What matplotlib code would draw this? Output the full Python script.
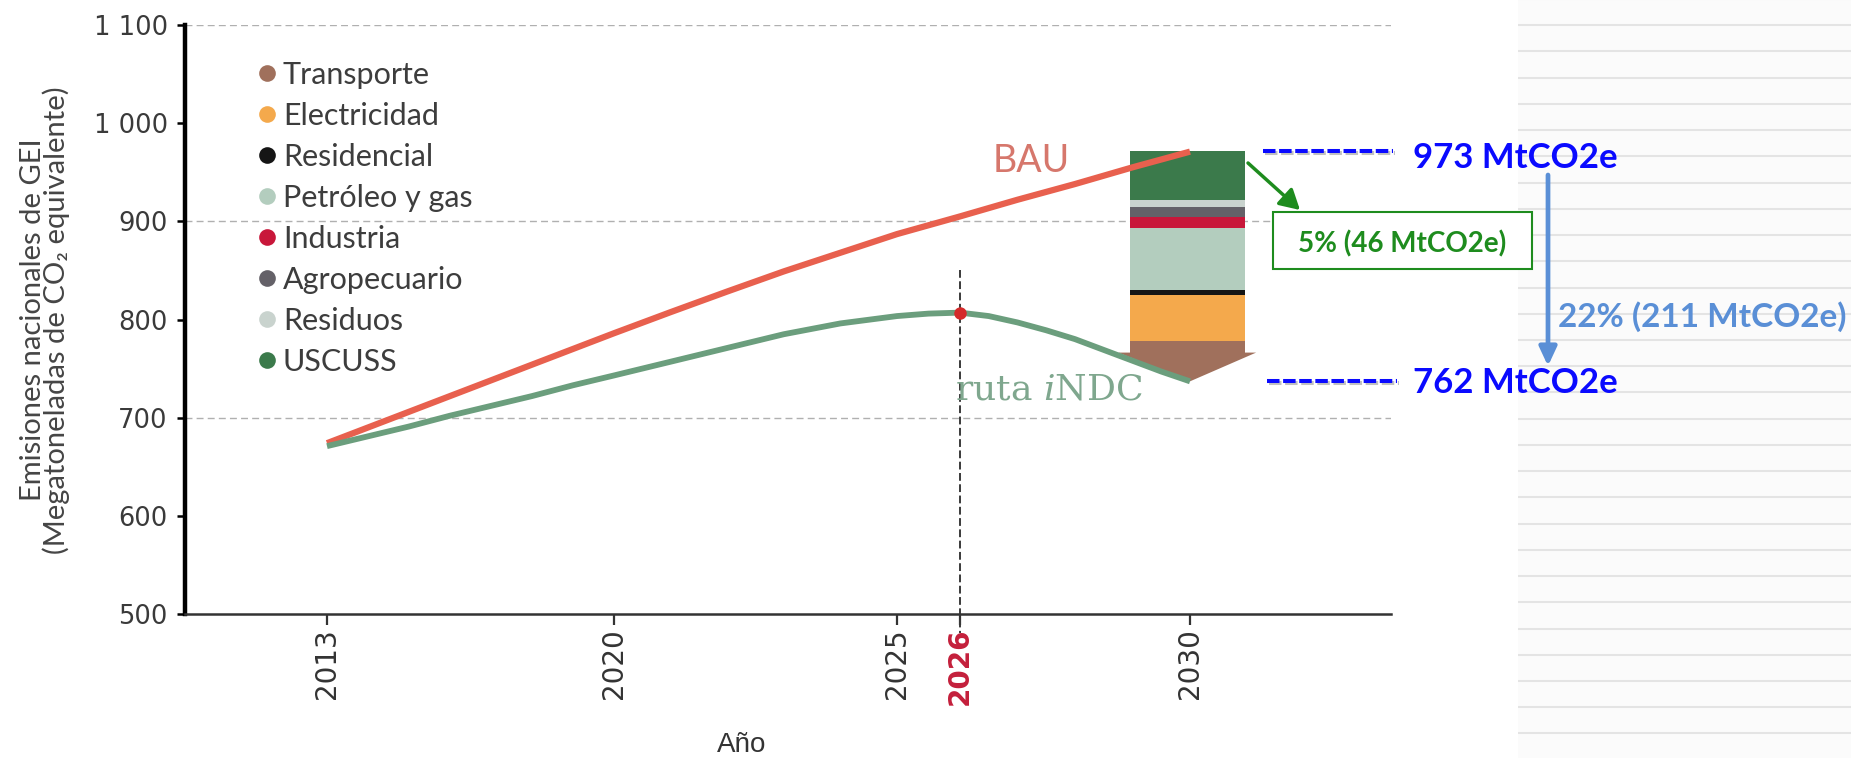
import numpy as np
import matplotlib
matplotlib.use("Agg")
import matplotlib.pyplot as plt
import matplotlib.patheffects as pe
from matplotlib.lines import Line2D
from matplotlib.patches import FancyArrowPatch, Rectangle
from matplotlib.ticker import NullLocator

# ---------------- data ----------------
bau_years = [2013, 2014, 2015, 2016, 2017, 2018, 2019, 2020, 2021, 2022,
             2023, 2024, 2025, 2026, 2027, 2028, 2029, 2030]
bau_values = [674, 690, 706, 722, 738, 754, 770, 786, 807.5, 828.5,
              849, 868, 887, 905, 922, 938, 955, 971]

indc_years = [2013, 2014, 2015, 2016, 2017, 2018, 2019, 2020, 2021, 2022,
              2023, 2024, 2025, 2025.5, 2026, 2026.5, 2027, 2027.5, 2028,
              2028.5, 2029, 2029.5, 2030]
indc_values = [671, 681, 691, 702, 712, 722, 733, 743, 757, 771,
               785, 796, 803.5, 806, 807, 803.5, 797, 789, 780,
               769, 758, 747, 737]

peak_year = 2026
peak_value = 807
peak_line_top = 850

sectors = ["Transporte", "Electricidad", "Residencial", "Petróleo y gas",
           "Industria", "Agropecuario", "Residuos", "USCUSS"]
sector_mitigation = [12, 47, 5, 63, 11, 11, 7, 50]
sector_colors = ["#a0705c", "#f4a94c", "#151515", "#b3cdbe",
                 "#c8173a", "#646168", "#c9d3ce", "#3b7a4b"]
bar_year = 2030
bar_base = 766

x_ticks = [2013, 2020, 2025, 2026, 2030]
y_ticks = [500, 600, 700, 800, 900, 1000, 1100]
grid_values = [700, 900, 1100]

label_bau = 973
label_indc = 762
label_uscuss = "5% (46 MtCO2e)"
label_total = "22% (211 MtCO2e)"

# ---------------- layout helpers ----------------
W, H = 1851, 758
def fx(px):
    return px / W
def fy(py):
    return 1 - py / H

# non-uniform year axis of the original drawing (layout, not data)
_A = np.array([2013, 2020, 2025, 2026, 2030], float)
_P = np.array([327, 614, 897, 960, 1190], float)
_s0 = (_P[1] - _P[0]) / (_A[1] - _A[0])
_s1 = (_P[-1] - _P[-2]) / (_A[-1] - _A[-2])

def fwd(x):
    x = np.asarray(x, dtype=float)
    out = np.interp(x, _A, _P)
    out = np.where(x < _A[0], _P[0] + (x - _A[0]) * _s0, out)
    out = np.where(x > _A[-1], _P[-1] + (x - _A[-1]) * _s1, out)
    return out

def inv(p):
    p = np.asarray(p, dtype=float)
    out = np.interp(p, _P, _A)
    out = np.where(p < _P[0], _A[0] + (p - _P[0]) / _s0, out)
    out = np.where(p > _P[-1], _A[-1] + (p - _P[-1]) / _s1, out)
    return out

plt.rcParams["mathtext.fontset"] = "dejavuserif"

fig = plt.figure(figsize=(W / 100, H / 100), dpi=100)
fig.patch.set_facecolor("white")

# right decorative panel (ruled sheet)
axp = fig.add_axes([fx(1518), 0, 1 - fx(1518), 1])
axp.set_facecolor("#fbfbfb")
for s in axp.spines.values():
    s.set_visible(False)
axp.set_xticks([])
axp.set_yticks([])
axp.set_xlim(0, 1)
axp.set_ylim(H, 0)
for k in range(31):
    axp.axhline(-1 + 26.23 * k, color="#e4e4e4", lw=1.5)
axp.set_zorder(0)

# main axes
ax = fig.add_axes([fx(185), fy(614), fx(1391) - fx(185), (614 - 25) / H])
ax.set_zorder(2)
ax.set_facecolor("none")
ax.set_xscale("function", functions=(fwd, inv))
ax.set_xlim(float(inv(185)), float(inv(1391)))
ax.set_ylim(500, 1100)
ax.xaxis.set_minor_locator(NullLocator())

for v in grid_values:
    ax.axhline(v, color="#b0b0b0", lw=1.0, ls=(0, (5, 3)), zorder=0.5)

# stacked mitigation bar
bottom = bar_base
for val, col in zip(sector_mitigation, sector_colors):
    ax.bar(bar_year - 0.05, val, bottom=bottom, width=2.0, color=col, zorder=2,
           linewidth=0)
    bottom += val
# arrow head of the bar down to the iNDC 2030 value
ax.fill([bar_year - 1.25, bar_year + 1.15, bar_year],
        [bar_base + 0.3, bar_base + 0.3, indc_values[-1]],
        color=sector_colors[0], lw=0, zorder=2)

# lines
ax.plot(bau_years, bau_values, color="#e8604e", lw=4.5,
        solid_capstyle="butt", solid_joinstyle="round", zorder=3)
ax.plot(indc_years, indc_values, color="#6b9e7d", lw=4.2,
        solid_capstyle="butt", solid_joinstyle="round", zorder=3.1)

ax.plot([peak_year, peak_year], [peak_line_top, 481], color="#3a3a3a",
        lw=1.4, ls=(0, (4, 1.8)), clip_on=False, zorder=2.5)
ax.plot([peak_year], [peak_value], "o", color="#d42a2a", ms=9, zorder=4,
        mec="none")

# axes styling
for s in ["top", "right"]:
    ax.spines[s].set_visible(False)
ax.spines["left"].set_linewidth(3.2)
ax.spines["left"].set_color("black")
ax.spines["bottom"].set_linewidth(1.8)
ax.spines["bottom"].set_color("#333333")

ax.set_yticks(y_ticks, [f"{v:,}".replace(",", " ") for v in y_ticks])
ax.tick_params(axis="y", length=6, width=1.8, color="black", pad=6.5,
               labelsize=18.5, labelcolor="#3a3a3a")
ax.set_xticks(x_ticks, [str(t) for t in x_ticks])
ax.tick_params(axis="x", length=8, width=1.6, color="#333333", pad=2,
               labelsize=20, labelcolor="#333333", labelrotation=90)
for lab in ax.get_xticklabels():
    lab.set_fontfamily("DejaVu Sans")
    if lab.get_text() == str(peak_year):
        lab.set_color("#c41f3b")
        lab.set_fontweight("bold")
for lab in ax.get_yticklabels():
    lab.set_fontfamily("DejaVu Sans")

# legend
handles = [Line2D([], [], ls="none", marker="o", ms=12, mfc=c, mec="none")
           for c in sector_colors]
leg = ax.legend(handles, sectors, loc="upper left",
                bbox_to_anchor=(fx(256), fy(61)), bbox_transform=fig.transFigure,
                frameon=False, prop={"family": ["Lato", "DejaVu Sans"], "size": 22},
                handlelength=0.7, handletextpad=0.18, labelspacing=0.425,
                borderpad=0, borderaxespad=0, labelcolor="#3d3d3d")

# texts inside plot
fig.text(fx(993), fy(172), "BAU", family=["Lato", "DejaVu Sans"], size=27,
         color="#d6776c", ha="left", va="baseline", zorder=5)
fig.text(fx(955), fy(400), r"ruta $\mathit{i}$NDC", family="DejaVu Serif",
         size=26, color="#7fa78e", ha="left", va="baseline", zorder=5)

# axis labels
fig.text(fx(742), fy(752), "Año", family=["Liberation Sans Narrow", "Liberation Sans"],
         size=20, color="#333333", ha="center", va="baseline")
fig.text(fx(45), fy(320), "Emisiones nacionales de GEI\n(Megatoneladas de CO₂ equivalente)",
         family=["Lato", "DejaVu Sans"], size=21, color="#454545", rotation=90,
         ha="center", va="center", multialignment="center", linespacing=0.82)

# annotations on the right
blend = matplotlib.transforms.blended_transform_factory(fig.transFigure, ax.transData)
bar_top = bar_base + sum(sector_mitigation)
shadow = [pe.SimpleLineShadow(offset=(1.5, -1.5), shadow_color="#777777", alpha=0.45),
          pe.Normal()]
for yv, x0, x1 in [(bar_top, 1263, 1393), (indc_values[-1], 1267, 1397)]:
    ln = Line2D([fx(x0), fx(x1)], [yv, yv], transform=blend, color="#0a0aff",
                lw=2.9, ls=(0, (3.1, 0.9)), path_effects=shadow, zorder=6)
    fig.add_artist(ln)

bold = {"family": ["Lato", "DejaVu Sans"], "weight": "bold"}
fig.text(fx(1413), fy(168), f"{label_bau} MtCO2e", color="#0a0aff", size=25,
         ha="left", va="baseline", zorder=6, **bold)
fig.text(fx(1413), fy(393), f"{label_indc} MtCO2e", color="#0a0aff", size=25,
         ha="left", va="baseline", zorder=6, **bold)

green = "#1e8c1e"
fig.add_artist(Rectangle((fx(1273), fy(269)), fx(1532) - fx(1273), fy(212) - fy(269),
                         transform=fig.transFigure, facecolor="white",
                         edgecolor=green, lw=1.5, zorder=5))
fig.text(fx(1402), fy(252), label_uscuss, color=green, size=20, ha="center",
         va="baseline", zorder=6, **bold)
fig.add_artist(FancyArrowPatch((fx(1248), fy(163)), (fx(1300), fy(210)),
                               transform=fig.transFigure, arrowstyle="-|>,head_length=0.8,head_width=0.45",
                               mutation_scale=15, lw=2.5, color=green,
                               shrinkA=0, shrinkB=0, zorder=6))

lblue = "#5a8fd6"
fig.add_artist(FancyArrowPatch((fx(1548), fy(175)), (fx(1548), fy(366)),
                               transform=fig.transFigure, arrowstyle="-|>,head_length=0.75,head_width=0.35",
                               mutation_scale=15, lw=3.4, color=lblue,
                               shrinkA=0, shrinkB=0, zorder=6))
fig.text(fx(1558), fy(327), label_total, color=lblue, size=24, ha="left",
         va="baseline", zorder=6, **bold)

fig.savefig("out.png", dpi=100)
